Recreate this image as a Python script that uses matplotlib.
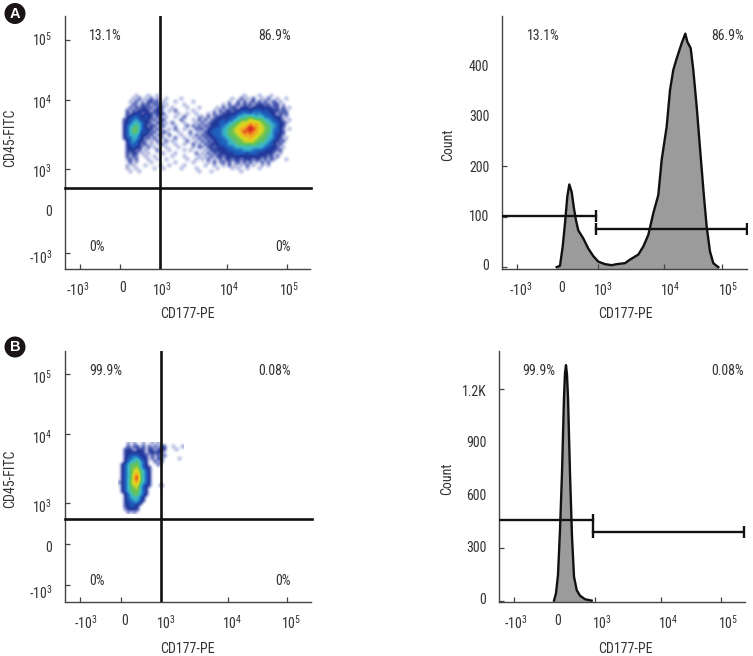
import numpy as np
import matplotlib
matplotlib.use("Agg")
import matplotlib.pyplot as plt
from matplotlib import font_manager as fm
from matplotlib.colors import LinearSegmentedColormap
from matplotlib.patches import Ellipse

FONT_CANDIDATES = ['Liberation Sans Narrow', 'Roboto Condensed', 'Open Sans Condensed',
                   'Noto Sans Condensed', 'DejaVu Sans Condensed', 'Roboto']
chosen = 'Roboto'
for _name in FONT_CANDIDATES:
    try:
        fm.findfont(_name, fallback_to_default=False)
        chosen = _name
        break
    except ValueError:
        pass
plt.rcParams['font.family'] = [chosen, 'DejaVu Sans']
plt.rcParams['mathtext.default'] = 'regular'
FS = 10 if 'Narrow' in chosen or 'Condensed' in chosen else 9.6
plt.rcParams['font.size'] = FS

W, H = 753, 656
TXT = '#333333'
AXC = '#444444'

# ---- tick labels ----
XLAB = ['-10$^{3}$', '0', '10$^{3}$', '10$^{4}$', '10$^{5}$']
YLAB = ['10$^{5}$', '10$^{4}$', '10$^{3}$', '0', '-10$^{3}$']
XNAME = 'CD177-PE'

# ---- density levels, panel A (0 empty ... 8 densest): left, middle and right stretches ----
A_LEFT = [
 "00000000000000", "00000100010010", "00001020102010", "00010201022120",
 "00002102120212", "00020212212022", "00202122220222", "00212231222122",
 "00223322322021", "02233432221202", "02234443221022", "02344543212201",
 "02345543222021", "02345542321201", "02344432212012", "02334432120201",
 "00234322101020", "00233321201002", "00223221020100", "00222120100020",
 "00212201010001", "00202100100100", "00120200010010", "00020100001000",
 "00101000100001", "00100100000100", "00010010000000", "00000000000000",
]
A_MID = [
 "0000000000000", "0000000000000", "0100001000000", "1000100000100",
 "0100000100000", "1001000010001", "0010200000100", "2000010010010",
 "0100100200001", "2000002000102", "0102000100010", "2000100020202",
 "0010200100021", "2100010002001", "0020001001020", "1000200100102",
 "0201000020010", "1000100100201", "0100010000102", "0010000101000",
 "1000100000020", "0001000100001", "0100000010010", "0000100000100",
 "0010000100000", "1000001000010", "0000000000001", "0000000000000",
]
A_RIGHT = [
 "0000000000000000000000000000000", "0000000000000010000100010000000",
 "0000000000100201020010200100100", "0000000001002020120202012010000",
 "0000000102012021202221202201000", "0000010201220222122222221202010",
 "0000102022122323233323222212100", "0010201222223343343433322021200",
 "1020122222334445544443332220100", "0201222323344555665554433221010",
 "2012223334455666767655443322100", "0212223344556667877665544322000",
 "2022333445566778887665543321010", "0223333445566787877665543322000",
 "2122333445556677776655443221000", "0212233344555666766555443220100",
 "2021223334455566665554432212000", "0212223334445555555444332120000",
 "1022122233344444444443322201000", "0102222223333344433332222120000",
 "1020212222233332333222221010000", "0102022122222222222222120200000",
 "1020102022122122212202021000100", "0010201202012020201020200000000",
 "0100100102010102010010100000000", "0000010000101001000100000000000",
 "0001000000000100000000000000000", "0000000000000000000000000000000",
]
# ---- density levels, panel B ----
DENS_B = [
 "0001010010010100000000",
 "0002022020202022001001",
 "0022202220220222000100",
 "0022222220222220000000",
 "0022333222020202000000",
 "0023344322020220000010",
 "0023445432002020000000",
 "0234555432000200000000",
 "0234556432200000000000",
 "0234566543200000000000",
 "0234567543200000000000",
 "0234578543200000000000",
 "0234578543200000000000",
 "1234667543200000000000",
 "0234566432200020000000",
 "0234556432000000000000",
 "0234555432000000000000",
 "0023455432000000000000",
 "0023444320000000000000",
 "0023344320000000000000",
 "0022333200000000000000",
 "0022322000000000000000",
 "0012222000000000000000",
 "0001010000000000000000",
]
LEVEL_COLORS = ['#ffffff', '#7f8bca', '#22379a', '#1f62c0', '#3cb8c8',
                '#62c25a', '#dcd820', '#f2a020', '#d82020']

# ---- histogram A (channel, count) ----
HA_X = [-0.3, 3, 5.7, 8, 10.3, 12.3, 14.7, 17, 19, 21.3, 26.3, 31.3, 36.3, 41.3, 48,
        54.7, 59.7, 68, 73, 81.3, 86.3, 91.3, 96.3, 101.3, 104.7, 109.7, 113, 116.3,
        119.7, 124.7, 128.3, 130.3, 133.7, 136.3, 139.7, 143.7, 147, 149.7, 153,
        156.3, 161.3]
HA_Y = [0, 3, 41, 87, 140, 164, 149, 116, 93, 73, 57, 37, 22, 11, 6, 4, 6, 8, 15, 25,
        41, 64, 107, 143, 213, 279, 351, 391, 414, 444, 463, 447, 434, 391, 318, 219,
        139, 80, 31, 8, 0]
# ---- histogram B (channel, count) ----
HB_X = [-3, -1, 1, 3, 5, 7, 8, 9, 10, 11, 13, 15, 17, 19.7, 23, 28, 34.7]
HB_Y = [0, 42, 146, 401, 723, 1153, 1290, 1336, 1280, 1153, 723, 363, 136, 60, 28, 8, 0]

DENS_A = [(a + b + c) for a, b, c in zip(A_LEFT, A_MID, A_RIGHT)]

cmap = LinearSegmentedColormap.from_list('flow', LEVEL_COLORS)
fig = plt.figure(figsize=(W / 100, H / 100), dpi=100, facecolor='white')


def make_axes(l, r, top, bottom):
    ax = fig.add_axes([l / W, 1 - bottom / H, (r - l) / W, (bottom - top) / H])
    for s in ('top', 'right'):
        ax.spines[s].set_visible(False)
    for s in ('left', 'bottom'):
        ax.spines[s].set_color(AXC)
        ax.spines[s].set_linewidth(1.0)
    return ax


def style_ticks(ax, xticks, xlabs, xlabpos, yticks, ylabs, ylabpos):
    ax.set_xticks(xlabpos, xlabs)
    ax.set_xticks(xticks, minor=True)
    ax.set_yticks(ylabpos, ylabs)
    ax.set_yticks(yticks, minor=True)
    ax.tick_params(which='major', length=0, labelcolor=TXT, labelsize=FS)
    ax.tick_params(axis='x', which='major', pad=8.5)
    ax.tick_params(axis='y', which='major', pad=9.4)
    ax.tick_params(which='minor', direction='in', length=3.6, width=0.9, color=AXC)


def name_axes(ax, box, xn, xc, xy, yn, yx, yc):
    l, r, top, bottom = box
    ax.set_xlabel(xn, color=TXT, fontsize=FS, va='center')
    ax.xaxis.set_label_coords((xc - l) / (r - l), (bottom - xy) / (bottom - top))
    ax.set_ylabel(yn, color=TXT, fontsize=FS, va='center')
    ax.yaxis.set_label_coords((yx - l) / (r - l), (bottom - yc) / (bottom - top))


def note(x, y, s, ha='left'):
    fig.text(x / W, 1 - y / H, s, ha=ha, va='center', color=TXT, fontsize=FS)


def density(ax, rows, extent):
    arr = np.array([[int(c) for c in row] for row in rows], dtype=float)
    ax.imshow(arr, cmap=cmap, vmin=0, vmax=8, extent=extent, aspect='auto',
              interpolation='bicubic', zorder=1)


def scatter_panel(box, x0, y0, dens, extent, xt, xl, yt, yl, vx, hy, xname_pos, ynm_y):
    l, r, top, bottom = box
    ax = make_axes(*box)
    density(ax, dens, extent)
    ax.set_xlim(l - x0, r - x0)
    ax.set_ylim(y0 - bottom, y0 - top)
    style_ticks(ax, xt, XLAB, xl, yt, YLAB, yl)
    ax.axvline(vx, color='#111111', lw=1.9, zorder=3)
    ax.plot([l - x0, r - x0 + 1], [hy, hy], color='#111111', lw=1.9, zorder=3, clip_on=False)
    name_axes(ax, box, XNAME, xname_pos[0], xname_pos[1], 'CD45-FITC', 10.5, ynm_y)
    return ax


def hist_panel(box, x0, hx, hy, ylim, xt, xl, yt, ylabs, yl, gates, xname_pos, ynm):
    l, r, top, bottom = box
    ax = make_axes(*box)
    ax.fill_between(hx, hy, ylim[0], color='#9b9b9b', lw=0, zorder=1)
    ax.plot(hx, hy, color='#111111', lw=1.7, zorder=2)
    ax.set_xlim(l - x0, r - x0)
    ax.set_ylim(*ylim)
    style_ticks(ax, xt, XLAB, xl, yt, ylabs, yl)
    for (a, b, lev, caps) in gates:
        ax.plot([a, b], [lev, lev], color='#111111', lw=1.7, zorder=3)
        ax.plot(caps, [lev] * len(caps), ls='', marker='|', ms=8, mew=1.7,
                color='#111111', zorder=3)
    name_axes(ax, box, XNAME, xname_pos[0], xname_pos[1], 'Count', ynm[0], ynm[1])
    return ax


# Panel A, dot plot
scatter_panel((65.3, 310, 16, 268.7), 120, 210.7, DENS_A, (0, 174, 34.7, 118.7),
              [-40, 0.3, 40, 107.3, 166.7], [-42, 2.7, 42, 109, 168.7],
              [171, 110.4, 41.4, 0, -42], [172.4, 109, 40, 0, -45.3],
              40, 22.7, (187, 314), 138)
note(89.3, 36, '13.1%'); note(291, 36, '86.9%', 'right')
note(89.3, 247, '0%'); note(291, 247, '0%', 'right')

# Panel A, histogram
hist_panel((502.3, 747.3, 16, 268.7), 557, HA_X, HA_Y, (-3, 498),
           [-40.3, 40.7, 107.3, 165.3], [-36, 4.7, 46, 113, 171],
           [400, 300, 200, 100, 0], ['400', '300', '200', '100', '0'],
           [400, 300, 199, 102, 6],
           [(-54.7, 39, 101.5, [39]), (39, 190, 76, [39, 190])],
           (625, 314), (448, 145))
note(527.3, 36, '13.1%'); note(744, 36, '86.9%', 'right')

# Panel B, dot plot
scatter_panel((65.3, 311, 350.7, 602.3), 120.7, 544, DENS_B, (-2.7, 63.3, 30, 102),
              [-40.4, 0, 40, 107, 166.6], [-35, 4, 45.3, 111.6, 170.6],
              [170, 110, 41.3, 0, -41.3], [168, 107.3, 39, -2, -47],
              40, 25, (187, 649), 479)
note(89.3, 370.7, '99.9%'); note(291, 370.7, '0.08%', 'right')
note(89.3, 581.3, '0%'); note(291, 581.3, '0%', 'right')

# Panel B, histogram
hist_panel((499.3, 745, 350.7, 602.3), 557, HB_X, HB_Y, (-9.5, 1418),
           [-43, 37.7, 104.3, 163.7], [-41.3, 0.7, 44.7, 111, 171.3],
           [1200, 900, 600, 300, 0], ['1.2K', '900', '600', '300', '0'],
           [1190, 900, 600, 305, 12],
           [(-57.7, 36.3, 459, [36.3]), (36.3, 187.3, 387.5, [36.3, 187.3])],
           (625, 649), (447, 479))
note(522, 370.7, '99.9%'); note(744, 370.7, '0.08%', 'right')

# Panel badges
for (cx, cy, s) in [(15, 13.5, 'A'), (15, 347, 'B')]:
    fig.add_artist(Ellipse((cx / W, 1 - cy / H), 21 / W, 21 / H, transform=fig.transFigure,
                           facecolor='#1a1414', edgecolor='none'))
    fig.text(cx / W, 1 - (cy + 0.3) / H, s, color='white', ha='center', va='center',
             fontsize=10.5, fontweight='bold', family=['Liberation Sans', 'DejaVu Sans'])

fig.savefig('out.png', dpi=100)
